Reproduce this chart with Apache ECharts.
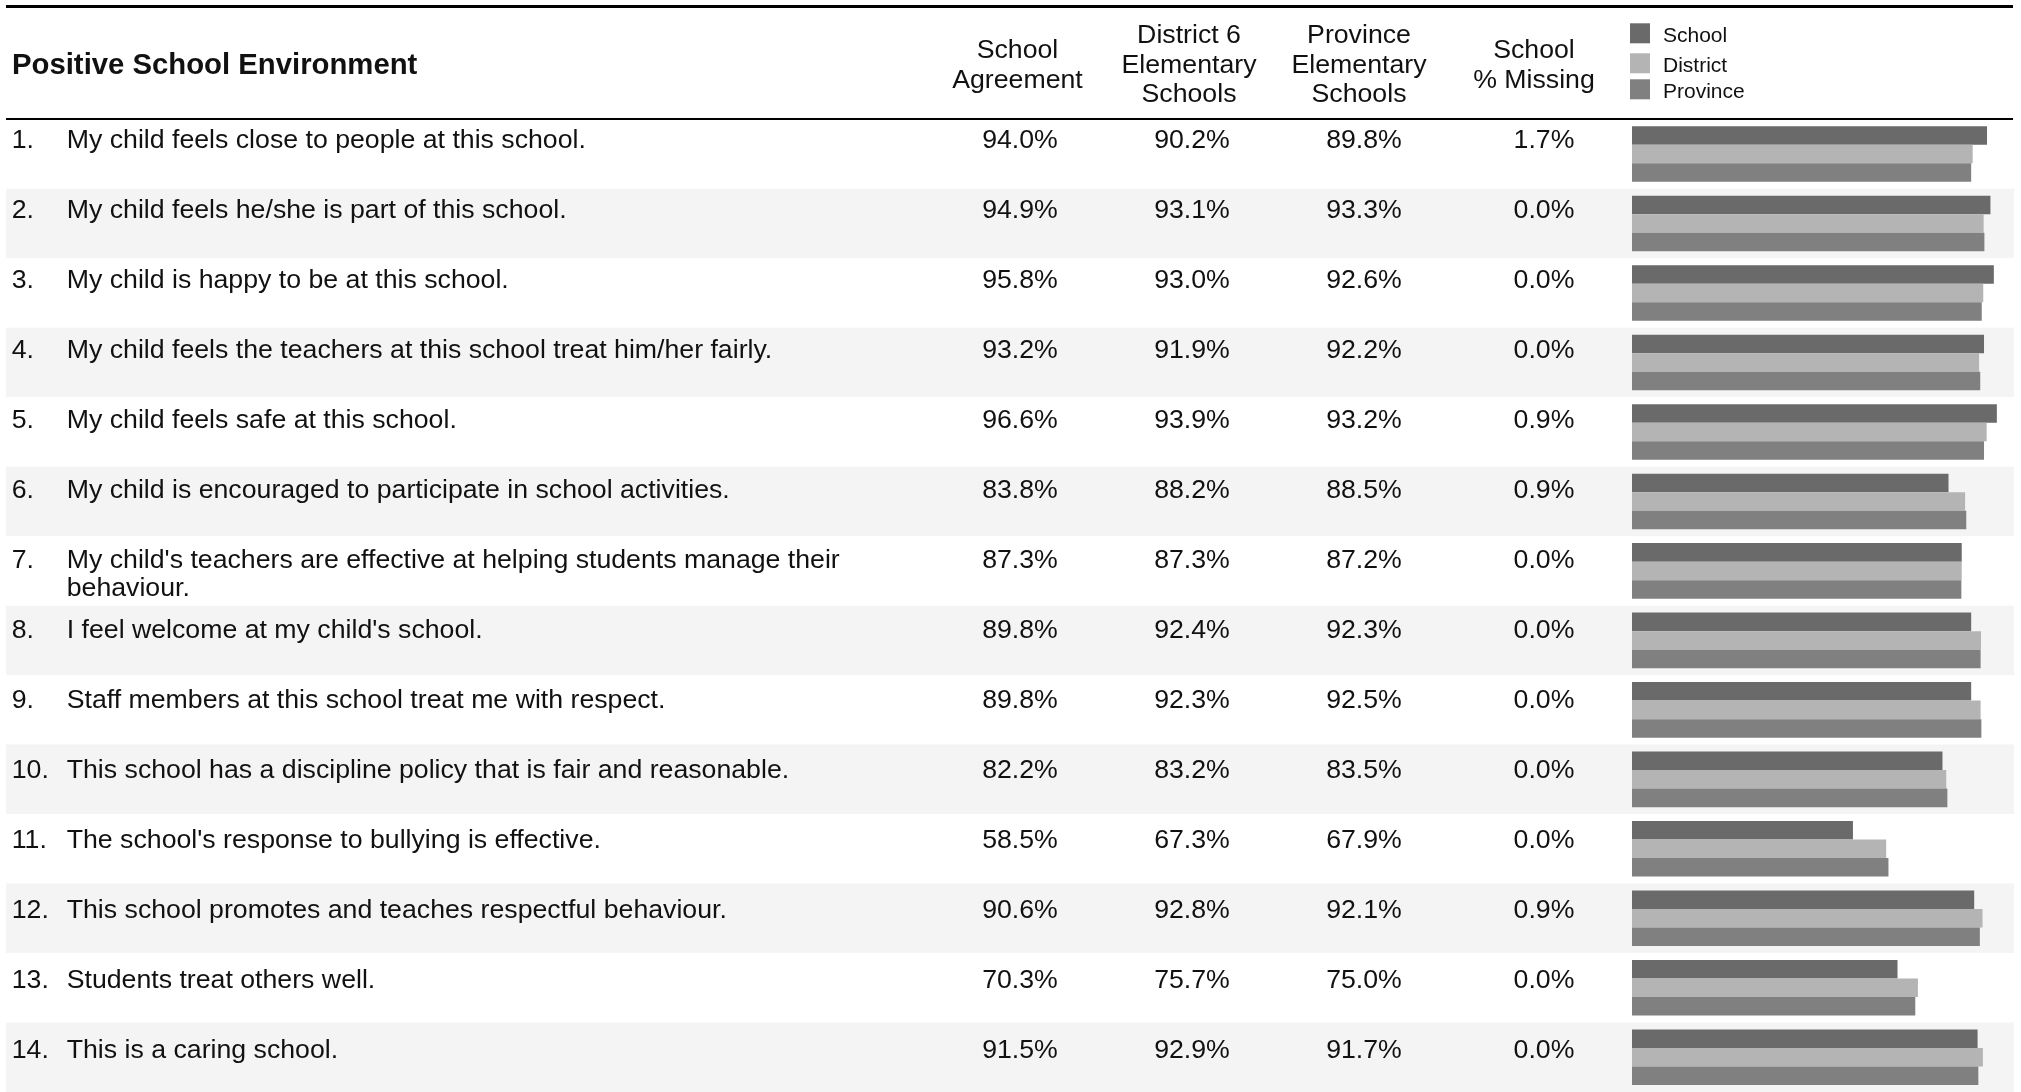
<!DOCTYPE html>
<html><head><meta charset="utf-8">
<script src="https://cdn.jsdelivr.net/npm/echarts@6/dist/echarts.min.js"></script>
<style>html,body{margin:0;padding:0;background:#fff}#c{width:2021px;height:1092px}</style>
</head><body><div id="c"></div>
<script>
const titleText = 'Positive School Environment';
const headers = ['School\nAgreement', 'District 6\nElementary\nSchools', 'Province\nElementary\nSchools', 'School\n% Missing'];
const legendNames = ['School', 'District', 'Province'];
const questions = [
  'My child feels close to people at this school.',
  'My child feels he/she is part of this school.',
  'My child is happy to be at this school.',
  'My child feels the teachers at this school treat him/her fairly.',
  'My child feels safe at this school.',
  'My child is encouraged to participate in school activities.',
  "My child's teachers are effective at helping students manage their\nbehaviour.",
  "I feel welcome at my child's school.",
  'Staff members at this school treat me with respect.',
  'This school has a discipline policy that is fair and reasonable.',
  "The school's response to bullying is effective.",
  'This school promotes and teaches respectful behaviour.',
  'Students treat others well.',
  'This is a caring school.'
];
const schoolAgree = [94.0, 94.9, 95.8, 93.2, 96.6, 83.8, 87.3, 89.8, 89.8, 82.2, 58.5, 90.6, 70.3, 91.5];
const districtVals = [90.2, 93.1, 93.0, 91.9, 93.9, 88.2, 87.3, 92.4, 92.3, 83.2, 67.3, 92.8, 75.7, 92.9];
const provinceVals = [89.8, 93.3, 92.6, 92.2, 93.2, 88.5, 87.2, 92.3, 92.5, 83.5, 67.9, 92.1, 75.0, 91.7];
const missingVals = [1.7, 0.0, 0.0, 0.0, 0.9, 0.9, 0.0, 0.0, 0.0, 0.0, 0.0, 0.9, 0.0, 0.0];

const FONT = '"Liberation Sans", Arial, sans-serif';
const TXT = '#111';
const FS = 26.7;
const rowTop = 119.3, rowH = 70, nRows = questions.length;
const gridH = rowH * nRows;
const textGridLeft = 2000;
const textGridTop = rowTop + 7 - rowH / 2;
const fmt = v => v.toFixed(1) + '%';
const colors = ['#6a6a6a', '#b4b4b4', '#808080'];

const cols = [
  { data: questions.map((q, i) => (i + 1) + '.'), x: 11.7, align: 'left' },
  { data: questions, x: 66.7, align: 'left' },
  { data: schoolAgree.map(fmt), x: 1020, align: 'center' },
  { data: districtVals.map(fmt), x: 1192, align: 'center' },
  { data: provinceVals.map(fmt), x: 1364, align: 'center' },
  { data: missingVals.map(fmt), x: 1544, align: 'center' }
];
const headerX = [1017.5, 1189, 1359, 1534];

const chart = echarts.init(document.getElementById('c'), null, { renderer: 'canvas' });

const hidden = { axisLine: { show: false }, axisTick: { show: false }, axisLabel: { show: false }, splitLine: { show: false } };

const yAxes = [
  Object.assign({ type: 'category', gridIndex: 0, inverse: true, data: questions }, hidden, {
    splitArea: { show: true, areaStyle: { color: ['#ffffff', '#f4f4f4'] } }
  }),
  Object.assign({ type: 'category', gridIndex: 1, inverse: true, data: questions }, hidden)
];
cols.forEach(c => {
  yAxes.push({
    type: 'category', gridIndex: 2, inverse: true, data: c.data,
    position: 'left', offset: textGridLeft - c.x,
    axisLine: { show: false }, axisTick: { show: false }, splitLine: { show: false },
    axisLabel: {
      show: true, interval: 0, margin: 0, align: c.align, verticalAlign: 'top',
      lineHeight: 28, fontSize: FS, fontFamily: FONT, color: TXT
    }
  });
});

const graphic = [
  { type: 'line', z: 50, shape: { x1: 6, y1: 6.5, x2: 2013, y2: 6.5 }, style: { stroke: '#000', lineWidth: 3 } },
  { type: 'line', z: 50, shape: { x1: 6, y1: 119, x2: 2013, y2: 119 }, style: { stroke: '#000', lineWidth: 2 } },
  { type: 'text', z: 50, x: 12, y: 65.5, style: { text: titleText, fontSize: 29.3, fontWeight: 'bold', fontFamily: FONT, fill: TXT, align: 'left', verticalAlign: 'middle' } }
];
headers.forEach((h, i) => {
  graphic.push({ type: 'text', z: 50, x: headerX[i], y: 65.5, style: { text: h, fontSize: FS, fontFamily: FONT, fill: TXT, align: 'center', verticalAlign: 'middle', lineHeight: 29.5 } });
});

const legendTops = [23.3, 53.3, 79.3];
const legends = legendNames.map((name, i) => ({
  data: [name], left: 1630, top: legendTops[i], padding: 0, icon: 'rect', itemWidth: 20, itemHeight: 20,
  selectedMode: false, orient: 'vertical',
  formatter: '{t|{name}}',
  textStyle: { fontSize: 21, fontFamily: FONT, color: TXT, padding: [0, 0, 0, 8],
    rich: { t: { fontSize: 21, fontFamily: FONT, color: TXT, padding: [6, 0, 0, 0] } } }
}));

const seriesVals = [schoolAgree, districtVals, provinceVals];
chart.setOption({
  animation: false,
  backgroundColor: '#fff',
  legend: legends,
  grid: [
    { left: 6, width: 2008, top: rowTop, height: gridH },
    { left: 1632, width: 377.7, top: rowTop, height: gridH },
    { left: textGridLeft, width: 10, top: textGridTop, height: gridH }
  ],
  xAxis: [
    Object.assign({ type: 'value', gridIndex: 0, min: 0, max: 100 }, hidden),
    Object.assign({ type: 'value', gridIndex: 1, min: 0, max: 100 }, hidden),
    Object.assign({ type: 'value', gridIndex: 2, min: 0, max: 100 }, hidden)
  ],
  yAxis: yAxes,
  series: legendNames.map((name, i) => ({
    name, type: 'bar', xAxisIndex: 1, yAxisIndex: 1, data: seriesVals[i],
    barGap: 0, barCategoryGap: '20%', itemStyle: { color: colors[i] }, silent: true
  })),
  graphic
});
</script>
</body></html>
